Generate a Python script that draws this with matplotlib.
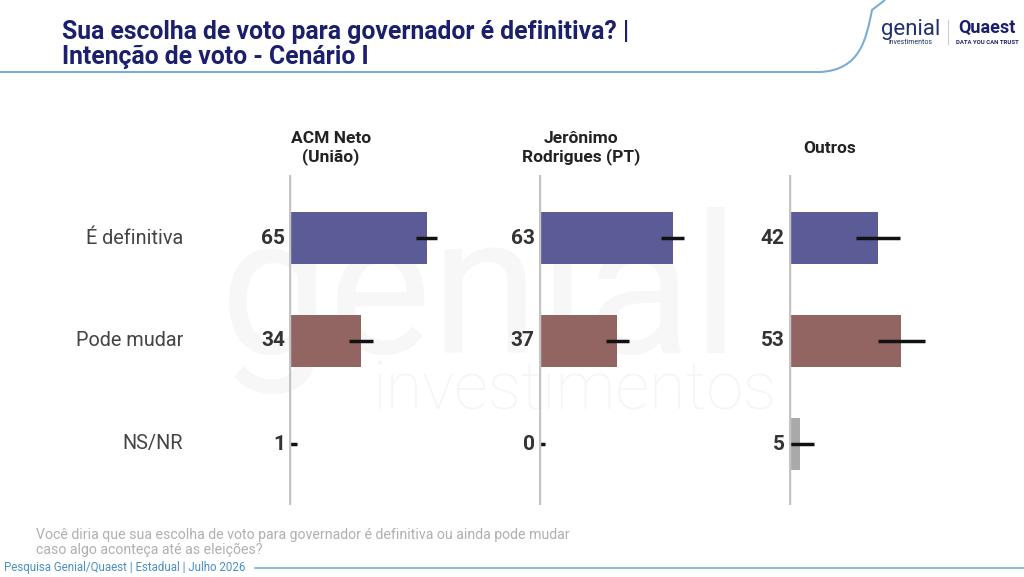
import numpy as np
import matplotlib
matplotlib.use('Agg')
import matplotlib.pyplot as plt
from matplotlib.path import Path
from matplotlib.patches import PathPatch

plt.rcParams['font.family'] = ['Roboto', 'DejaVu Sans']

# data
categories = ['É definitiva', 'Pode mudar', 'NS/NR']
candidates = ['ACM Neto\n(União)', 'Jerônimo\nRodrigues (PT)', 'Outros']
acm = [65, 34, 1]
jeronimo = [63, 37, 0]
outros = [42, 53, 5]
acm_err = [5, 5.5, 3]
jeronimo_err = [5.5, 5.5, 3]
outros_err = [10.5, 11, 7]

values = [acm, jeronimo, outros]
errors = [acm_err, jeronimo_err, outros_err]
colors = ['#5b5b97', '#926462', '#a9a9a9']

W, H = 1024, 577
fig = plt.figure(figsize=(W/100, H/100), dpi=100)

def fx(px):
    return px/W
def fy(py):
    return 1 - py/H

# watermark, in a background axes so it stays behind everything
bg = fig.add_axes([0, 0, 1, 1], zorder=-5)
bg.set_axis_off()
bg.set_xlim(0, 1)
bg.set_ylim(0, 1)
bg.text(fx(480), fy(300), 'genial', fontsize=140, color='#f7f7f7', ha='center', va='center')
bg.text(fx(575), fy(392), 'investimentos', fontsize=48, color='#f5f5f5', ha='center', va='center',
        fontweight='light')

# header
fig.text(fx(62), fy(32), 'Sua escolha de voto para governador é definitiva? |', fontsize=17.8,
         fontweight='bold', color='#1c1f6b', va='center', ha='left')
fig.text(fx(62), fy(57), 'Intenção de voto - Cenário I', fontsize=17.8,
         fontweight='bold', color='#1c1f6b', va='center', ha='left')

verts = [(fx(0), fy(72)), (fx(820), fy(72)), (fx(860), fy(70)), (fx(866), fy(40)),
         (fx(872), fy(10)), (fx(885), fy(0))]
codes = [Path.MOVETO, Path.LINETO, Path.CURVE4, Path.CURVE4, Path.CURVE4, Path.LINETO]
fig.patches.append(PathPatch(Path(verts, codes), transform=fig.transFigure, fill=False,
                             edgecolor='#7aaed6', lw=1.5))

# logos
fig.text(fx(911), fy(29), 'genial', fontsize=16, color='#24306e', ha='center', va='center')
fig.text(fx(911), fy(42), 'investimentos', fontsize=5, color='#24306e', ha='center', va='center')
fig.lines.append(plt.Line2D([fx(948), fx(948)], [fy(20), fy(44)], transform=fig.transFigure,
                            color='#cccccc', lw=0.8))
fig.text(fx(987), fy(28), 'Quaest', fontsize=13, fontweight='bold', color='#1c1f6b',
         ha='center', va='center')
fig.text(fx(987), fy(42), 'DATA YOU CAN TRUST', fontsize=4.3, fontweight='bold', color='#1c1f6b',
         ha='center', va='center')

# panels
ax_left = [289, 539, 789]
head_x = [331, 581, 830]
scale = 2.12  # px per unit
top, bottom = 175, 505
for k in range(3):
    ax = fig.add_axes([fx(ax_left[k]), fy(bottom), 100*scale/W, (bottom-top)/H])
    ax.patch.set_alpha(0)
    ax.set_xlim(0, 100)
    ylo = (top - 238)/103
    yhi = (bottom - 238)/103
    ax.set_ylim(yhi, ylo)
    y = np.arange(len(categories))
    ax.barh(y, values[k], height=0.51, color=colors, zorder=2)
    ax.errorbar(values[k], y, xerr=errors[k], fmt='none', ecolor='#111111', elinewidth=2.5,
                capsize=0, zorder=3)
    ax.axvline(0, color='#c4c4c4', lw=2.5, zorder=4)
    for i, v in enumerate(values[k]):
        ax.text(-2, i, str(v), ha='right', va='center', fontsize=15, fontweight='bold',
                color='#333333')
    for s in ax.spines.values():
        s.set_visible(False)
    ax.set_xticks([])
    ax.set_yticks([])
    fig.text(fx(head_x[k]), fy(148), candidates[k], ha='center', va='center',
             fontsize=12.5, fontweight='bold', color='#222222', linespacing=1.1)

for i, c in enumerate(categories):
    fig.text(fx(183), fy(238 + 103*i), c, ha='right', va='center', fontsize=14.3,
             color='#444444')

# footer
fig.text(fx(36), fy(535), 'Você diria que sua escolha de voto para governador é definitiva ou ainda pode mudar',
         fontsize=10.2, color='#b0b0b0', va='center', ha='left')
fig.text(fx(36), fy(550), 'caso algo aconteça até as eleições?', fontsize=10.2, color='#b0b0b0',
         va='center', ha='left')
fig.text(fx(4), fy(567), 'Pesquisa Genial/Quaest | Estadual | Julho 2026', fontsize=8.3,
         color='#4a8fc7', va='center', ha='left')
fig.lines.append(plt.Line2D([fx(255), fx(1024)], [fy(568), fy(568)], transform=fig.transFigure,
                            color='#7aaed6', lw=1.2))

fig.savefig('out.png', dpi=100)
